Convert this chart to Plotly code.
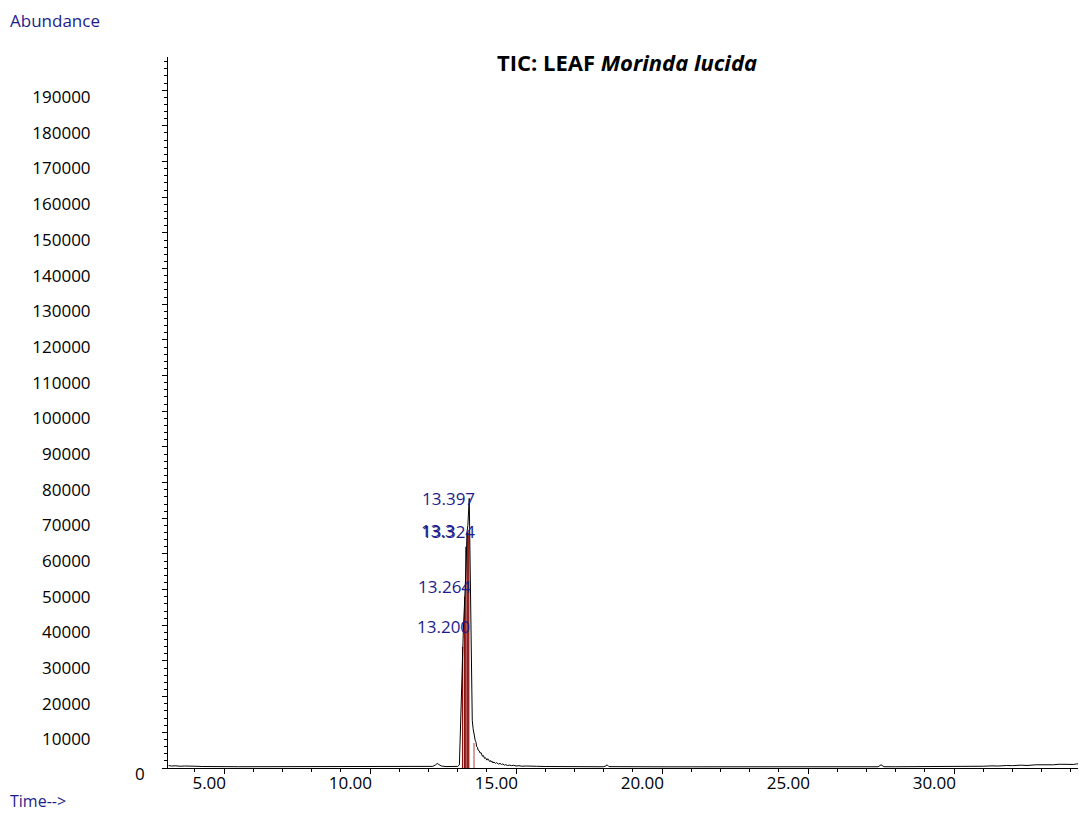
import plotly.graph_objects as go

# ---- data ----
time_min = [3.10, 3.20, 3.35, 3.50, 3.65, 3.80, 4.00, 4.25, 4.50, 4.75, 5.00, 5.50,
            6.00, 6.50, 7.00, 7.50, 8.00, 8.50, 9.00, 9.50, 10.00, 10.50, 11.00,
            11.50, 12.00, 12.15, 12.25, 12.30, 12.35, 12.45, 12.60, 12.80, 13.00,
            13.06, 13.10, 13.14, 13.17, 13.20, 13.23, 13.264, 13.29, 13.324, 13.35,
            13.397, 13.42, 13.44, 13.46, 13.48, 13.50, 13.53, 13.55, 13.58, 13.60,
            13.63, 13.65, 13.68, 13.70, 13.73, 13.77, 13.80, 13.85, 13.88, 13.92,
            13.95, 13.97, 14.00, 14.03, 14.05, 14.08, 14.10, 14.13, 14.15, 14.18,
            14.21, 14.24, 14.26, 14.30, 14.33, 14.35, 14.40, 14.45, 14.50, 14.55,
            14.60, 14.65, 14.70, 14.78, 14.85, 14.92, 15.00, 15.10, 15.20, 15.35,
            15.50, 15.70, 16.00, 16.50, 17.00, 17.50, 18.00, 18.08, 18.12, 18.18,
            18.50, 19.00, 20.00, 21.00, 22.00, 23.00, 24.00, 25.00, 26.00, 27.00,
            27.40, 27.50, 27.60, 28.00, 29.00, 30.00, 30.50, 31.00, 31.30, 31.50,
            31.80, 32.00, 32.30, 32.50, 32.80, 33.00, 33.20, 33.40, 33.60, 33.80,
            33.90, 34.10, 34.20, 34.40, 34.50]
abundance = [700, 550, 620, 480, 560, 450, 500, 420, 460, 400, 380, 360,
             350, 340, 330, 330, 320, 320, 310, 310, 300, 300, 300,
             300, 320, 450, 900, 1300, 1000, 550, 400, 380, 450,
             900, 12000, 30000, 34000, 39800, 45000, 51000, 57000, 66400, 68000,
             75600, 62000, 45000, 28000, 15400, 13400, 11000, 9800, 8600, 7800,
             7200, 6000, 5800, 5000, 4900, 4200, 4300, 3300, 3500, 2700,
             2900, 2500, 2200, 2600, 2300, 2000, 1800, 2100, 1700, 1900,
             1400, 1700, 1600, 1300, 1500, 1400, 1100, 1300, 1000, 1150,
             800, 950, 700, 800, 650, 750, 550, 650, 500, 560,
             450, 480, 420, 400, 380, 360, 350, 600, 900, 380,
             350, 340, 330, 330, 320, 320, 320, 330, 330, 340,
             350, 900, 360, 350, 360, 380, 450, 500, 600, 550,
             700, 650, 800, 700, 900, 850, 1000, 900, 1050, 950,
             1100, 1000, 1150, 1050, 1150]

peak_rt = ["13.200", "13.264", "13.324", "13.3", "13.397"]
peak_x = [13.200, 13.264, 13.324, 13.324, 13.397]
peak_y = [39800, 51000, 66400, 66400, 75600]

bound_t = [13.17, 13.24, 13.28, 13.33, 13.38, 13.56]
bound_h = [34000, 48000, 62000, 66000, 66000, 7000]
bound_col = ["#8b1010", "#8b1010", "#8b1010", "#8b1010", "#8b1010", "#c46a6a"]

x_tick_vals = [5, 10, 15, 20, 25, 30]
x_tick_text = ["5.00", "10.00", "15.00", "20.00", "25.00", "30.00"]
y_tick_vals = [10000 * i for i in range(0, 20)]
y_tick_text = [""] + [str(v) for v in y_tick_vals[1:]]

NAVY = "#1c1c8c"
FONT = "Open Sans"

fig = go.Figure()

# integration boundary lines
for t, h, c in zip(bound_t, bound_h, bound_col):
    fig.add_trace(go.Scatter(x=[t, t], y=[0, h], mode="lines",
                             line=dict(color=c, width=1.3), hoverinfo="skip",
                             showlegend=False))

fig.add_trace(go.Scatter(x=time_min, y=abundance, mode="lines",
                         line=dict(color="black", width=1), showlegend=False))

for txt, px, py, dx, dy in zip(peak_rt, peak_x, peak_y,
                               [-48, -49, -47, -48, -49], [0, 0, 0, 1, 0]):
    fig.add_annotation(x=px, y=py, xref="x", yref="y", text=txt, showarrow=False,
                       xanchor="left", yanchor="middle", xshift=dx, yshift=dy,
                       font=dict(family=FONT, size=17, color=NAVY))

fig.add_annotation(x=0, y=0, xref="paper", yref="y", text="0", showarrow=False,
                   xanchor="center", yanchor="middle", xshift=-28, yshift=-5,
                   font=dict(family=FONT, size=17, color="black"))

fig.add_annotation(x=0, y=1, xref="paper", yref="paper", text="Abundance",
                   showarrow=False, xanchor="left", yanchor="middle",
                   xshift=-160, yshift=37,
                   font=dict(family=FONT, size=17, color=NAVY))
fig.add_annotation(x=0, y=0, xref="paper", yref="paper", text="Time-->",
                   showarrow=False, xanchor="left", yanchor="middle",
                   xshift=-160, yshift=-33,
                   font=dict(family=FONT, size=16, color=NAVY))
fig.add_annotation(x=0.5, y=1, xref="paper", yref="paper",
                   text="<b>TIC: LEAF <i>Morinda lucida</i></b>",
                   showarrow=False, xanchor="center", yanchor="middle", yshift=-5,
                   font=dict(family=FONT, size=22, color="black"))

fig.update_layout(
    width=1078, height=805,
    margin=dict(l=160, r=0, t=49, b=45),
    paper_bgcolor="white", plot_bgcolor="white",
    font=dict(family=FONT, size=17, color="black"),
    xaxis=dict(range=[3.08, 34.52], tickmode="array", tickvals=x_tick_vals,
               ticktext=x_tick_text, ticks="outside", ticklen=5, tickcolor="black",
               showline=True, linecolor="black", linewidth=1, showgrid=False,
               zeroline=False, ticklabelposition="outside left", ticklabelshift=3,
               minor=dict(dtick=1, ticks="outside", ticklen=3, tickcolor="black",
                          showgrid=False),
               tickfont=dict(family=FONT, size=17)),
    yaxis=dict(range=[0, 199300], tickmode="array", tickvals=y_tick_vals,
               ticktext=y_tick_text, ticks="outside", ticklen=5, tickcolor="black",
               showline=True, linecolor="black", linewidth=1, showgrid=False,
               zeroline=False, ticklabelstandoff=68, ticklabelshift=7,
               minor=dict(dtick=2000, ticks="outside", ticklen=3, tickcolor="black",
                          showgrid=False),
               tickfont=dict(family=FONT, size=17)),
)

fig.write_html("out.html")
